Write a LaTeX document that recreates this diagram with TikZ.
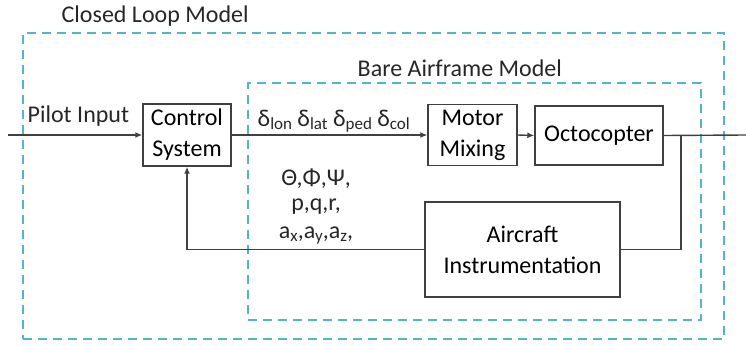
\documentclass[tikz,border=0pt]{standalone}
\usepackage{fontspec}
\setmainfont{Carlito}
\usetikzlibrary{arrows.meta, positioning}
\definecolor{cdash}{HTML}{52B4D0}
\definecolor{cline}{HTML}{404040}
\newcommand{\sub}[1]{\raisebox{-0.3ex}{\fontsize{17}{17}\selectfont #1}}
\tikzset{
  every picture/.style={line width=1.4pt},
  block/.style={draw=cline, align=center, inner sep=0pt, font=\fontsize{24}{31}\selectfont},
  bound/.style={draw=cdash, dash pattern=on 9pt off 6pt, line width=1.7pt, inner sep=0pt},
  sig/.style={-{Latex[length=7pt,width=6pt]}, draw=cline},
  wire/.style={draw=cline},
  lbl/.style={font=\fontsize{24}{28}\selectfont, text=black!85, inner sep=0pt},
}

\begin{document}
\begin{tikzpicture}[x=1pt, y=-1pt]
  \useasboundingbox (0,0) rectangle (746,345);
  % model boundaries
  \node[bound, minimum width=701pt, minimum height=306pt] (closed) at (373.5,186) {};
  \node[bound, minimum width=453pt, minimum height=237pt] (bare) at (474.5,201.5) {};
  \node[lbl, anchor=west] (closedt) at (61,16) {Closed Loop Model};
  \node[lbl, anchor=west] (baret) at (357,68) {Bare Airframe Model};
  % blocks
  \node[block, minimum width=88pt, minimum height=62pt] (ctrl) at (187,135) {Control\\System};
  \node[block, minimum width=89pt, minimum height=61pt] (mix) at (472.5,135) {Motor\\Mixing};
  \node[block, minimum width=128pt, minimum height=59pt] (octo) at (599,135.5) {Octocopter};
  \node[block, minimum width=195pt, minimum height=95pt] (instr) at (522.5,249.5) {Aircraft\\Instrumentation};
  \coordinate (in) at (8,135);
  \coordinate (out) at (746,135);
  \coordinate (tap) at (681,135);
  % signals
  \draw[sig] (in) -- (ctrl.west);
  \draw[sig] (ctrl.east) -- (mix.west);
  \draw[sig] (mix.east) -- (octo.west);
  \draw[wire] (octo.east) -- (out);
  \draw[wire] (tap) |- (instr.east);
  \draw[sig] (instr.west) -| (ctrl.south);
  % labels
  \node[lbl, anchor=west] (pilot) at (27,116) {Pilot Input};
  \node[lbl, anchor=west] (defl) at (257,121) {δ\sub{lon} δ\sub{lat} δ\sub{ped} δ\sub{col}};
  \foreach \t [count=\i] in {{Θ,Φ,Ψ,}, {p,q,r,}, {a\sub{x},a\sub{y},a\sub{z},}}
    \node[lbl] (meas\i) at (316,150+28.5*\i) {\t};
\end{tikzpicture}
\end{document}
